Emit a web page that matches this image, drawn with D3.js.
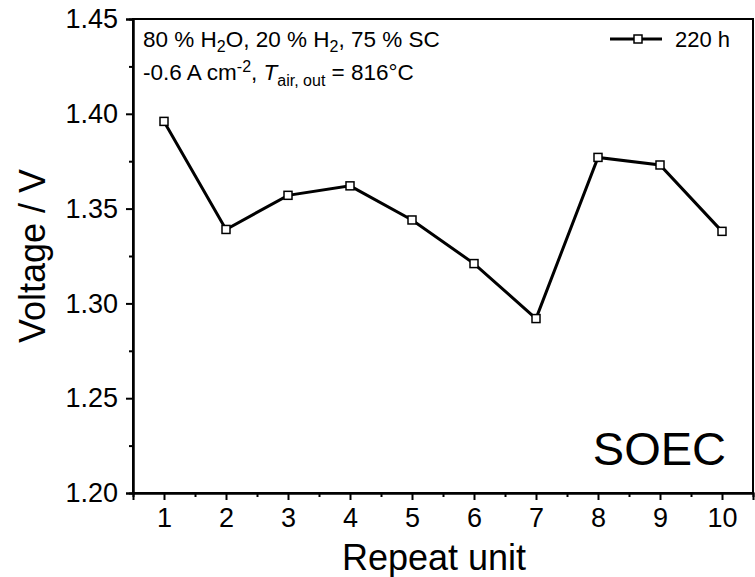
<!DOCTYPE html>
<html>
<head>
<meta charset="utf-8">
<script src="https://cdn.jsdelivr.net/npm/d3@7"></script>
<style>
  html, body { margin: 0; padding: 0; background: #fff; }
  svg { display: block; font-family: "Liberation Sans", Arial, sans-serif; }
</style>
</head>
<body>
<svg id="chart" width="755" height="577"></svg>
<script>
// ---- data ----
const repeatUnits = [1, 2, 3, 4, 5, 6, 7, 8, 9, 10];
const voltage220h = [1.396, 1.339, 1.357, 1.362, 1.344, 1.321, 1.292, 1.377, 1.373, 1.338];
const yTicks = [1.20, 1.25, 1.30, 1.35, 1.40, 1.45];
const yMinorTicks = [1.225, 1.275, 1.325, 1.375, 1.425];
const xMinorTicks = [1.5, 2.5, 3.5, 4.5, 5.5, 6.5, 7.5, 8.5, 9.5];
const seriesName = "220 h";

// ---- layout ----
const plotLeft = 133, plotRight = 753, plotTop = 19, plotBottom = 493;
const svg = d3.select("#chart");

const x = d3.scaleLinear().domain([0.5, 10.5]).range([plotLeft, plotRight]);
const y = d3.scaleLinear().domain([1.20, 1.45]).range([plotBottom, plotTop]);

// frame
svg.append("rect")
  .attr("x", plotLeft).attr("y", plotTop)
  .attr("width", plotRight - plotLeft).attr("height", plotBottom - plotTop)
  .attr("fill", "none").attr("stroke", "#000").attr("stroke-width", 2);

// y axis
const yAxis = svg.append("g").attr("transform", `translate(${plotLeft},0)`)
  .call(d3.axisLeft(y).tickValues(yTicks).tickFormat(d3.format(".2f")).tickSize(7).tickPadding(8));
const yMinor = svg.append("g").attr("transform", `translate(${plotLeft},0)`)
  .call(d3.axisLeft(y).tickValues(yMinorTicks).tickFormat("").tickSize(4));

// x axis
const xAxis = svg.append("g").attr("transform", `translate(0,${plotBottom})`)
  .call(d3.axisBottom(x).tickValues(repeatUnits).tickFormat(d3.format("d")).tickSize(7).tickPadding(8));
const xMinor = svg.append("g").attr("transform", `translate(0,${plotBottom})`)
  .call(d3.axisBottom(x).tickValues(xMinorTicks).tickFormat("").tickSize(4));

[yAxis, yMinor, xAxis, xMinor].forEach(g => {
  g.select(".domain").attr("stroke", "#000").attr("stroke-width", 2);
  g.selectAll(".tick line").attr("stroke", "#000").attr("stroke-width", 2);
  g.selectAll(".tick text").attr("fill", "#000").style("font-size", "27px")
    .style("font-family", '"Liberation Sans", Arial, sans-serif');
});

// axis titles
svg.append("text")
  .attr("x", 434).attr("y", 570)
  .attr("text-anchor", "middle")
  .style("font-size", "36px")
  .text("Repeat unit");

svg.append("text")
  .attr("transform", "translate(45,256) rotate(-90)")
  .attr("text-anchor", "middle")
  .style("font-size", "36px")
  .text("Voltage / V");

// line
const line = d3.line()
  .x((d, i) => x(repeatUnits[i]))
  .y(d => y(d));

svg.append("path")
  .datum(voltage220h)
  .attr("d", line)
  .attr("fill", "none")
  .attr("stroke", "#000")
  .attr("stroke-width", 3);

const ms = 8;
svg.append("g").selectAll("rect")
  .data(voltage220h)
  .join("rect")
  .attr("x", (d, i) => x(repeatUnits[i]) - ms / 2)
  .attr("y", d => y(d) - ms / 2)
  .attr("width", ms).attr("height", ms)
  .attr("fill", "#fff").attr("stroke", "#000").attr("stroke-width", 1.5);

// annotation
const fs = 22.5, sfs = 16;
const t1 = svg.append("text").attr("x", 143).attr("y", 47).style("font-size", fs + "px");
t1.append("tspan").text("80 % H");
t1.append("tspan").attr("dy", 5).style("font-size", sfs + "px").text("2");
t1.append("tspan").attr("dy", -5).text("O, 20 % H");
t1.append("tspan").attr("dy", 5).style("font-size", sfs + "px").text("2");
t1.append("tspan").attr("dy", -5).text(", 75 % SC");

const t2 = svg.append("text").attr("x", 143).attr("y", 80).style("font-size", fs + "px");
t2.append("tspan").text("-0.6 A cm");
t2.append("tspan").attr("dy", -8).style("font-size", sfs + "px").text("-2");
t2.append("tspan").attr("dy", 8).text(", ");
t2.append("tspan").style("font-style", "italic").text("T");
t2.append("tspan").attr("dy", 6).style("font-size", sfs + "px").text("air, out");
t2.append("tspan").attr("dy", -6).text(" = 816°C");

// legend
const ly = 39;
svg.append("line").attr("x1", 610).attr("x2", 662).attr("y1", ly).attr("y2", ly)
  .attr("stroke", "#000").attr("stroke-width", 3);
svg.append("rect").attr("x", 638 - 4).attr("y", ly - 4).attr("width", 8).attr("height", 8)
  .attr("fill", "#fff").attr("stroke", "#000").attr("stroke-width", 1.5);
svg.append("text").attr("x", 675).attr("y", 47).style("font-size", "22px").text(seriesName);

// SOEC label
svg.append("text").attr("x", 726).attr("y", 465).attr("text-anchor", "end")
  .style("font-size", "47px").text("SOEC");
</script>
</body>
</html>
